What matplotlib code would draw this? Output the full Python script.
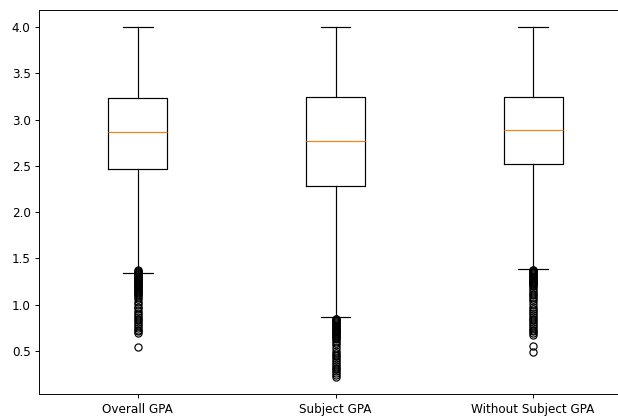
import matplotlib
matplotlib.use("Agg")
import matplotlib.pyplot as plt

# box statistics
labels = ["Overall GPA", "Subject GPA", "Without Subject GPA"]
q1 = [2.47, 2.28, 2.52]
medians = [2.866, 2.766, 2.885]
q3 = [3.237, 3.24, 3.25]
whislo = [1.34, 0.87, 1.39]
whishi = [4.0, 4.0, 4.0]

# outliers (estimated, the columns are dense)
fliers_overall = [1.37, 1.36, 1.35, 1.34, 1.33, 1.32, 1.31, 1.30, 1.29, 1.28,
                  1.27, 1.26, 1.25, 1.24, 1.23, 1.22, 1.21, 1.20, 1.19, 1.18,
                  1.17, 1.16, 1.15, 1.14, 1.13, 1.12, 1.10, 1.08, 1.06, 1.03,
                  1.01, 0.98, 0.96, 0.93, 0.91, 0.89, 0.87, 0.85, 0.83, 0.81,
                  0.79, 0.77, 0.75, 0.73, 0.71, 0.69, 0.54]
fliers_subject = [0.85, 0.84, 0.83, 0.82, 0.81, 0.80, 0.79, 0.78, 0.77, 0.76,
                  0.75, 0.74, 0.73, 0.72, 0.71, 0.70, 0.69, 0.68, 0.67, 0.66,
                  0.65, 0.64, 0.63, 0.61, 0.59, 0.56, 0.53, 0.50, 0.48, 0.46,
                  0.44, 0.42, 0.40, 0.38, 0.36, 0.34, 0.32, 0.30, 0.28, 0.26,
                  0.24, 0.22]
fliers_without = [1.38, 1.37, 1.36, 1.35, 1.34, 1.33, 1.32, 1.31, 1.30, 1.29,
                  1.28, 1.27, 1.26, 1.25, 1.24, 1.23, 1.22, 1.21, 1.20, 1.18,
                  1.16, 1.14, 1.12, 1.10, 1.08, 1.06, 1.04, 1.01, 0.98, 0.95,
                  0.93, 0.91, 0.89, 0.87, 0.85, 0.83, 0.81, 0.79, 0.77, 0.75,
                  0.73, 0.71, 0.69, 0.67, 0.55, 0.49]
fliers = [fliers_overall, fliers_subject, fliers_without]

stats = []
for i in range(len(labels)):
    stats.append({
        'label': labels[i],
        'q1': q1[i],
        'med': medians[i],
        'q3': q3[i],
        'whislo': whislo[i],
        'whishi': whishi[i],
        'fliers': fliers[i],
    })

DPI = 86
fig = plt.figure(figsize=(618 / DPI, 416 / DPI), dpi=DPI)
ax = fig.add_axes([39 / 618, 21.7 / 416, 593 / 618, 384.6 / 416])
ax.bxp(stats, positions=[1, 2, 3])
ax.set_xlim(0.5, 3.5)
ax.set_ylim(0.031, 4.189)
ax.set_yticks([0.5, 1.0, 1.5, 2.0, 2.5, 3.0, 3.5, 4.0])

fig.savefig("out.png", dpi=DPI)
